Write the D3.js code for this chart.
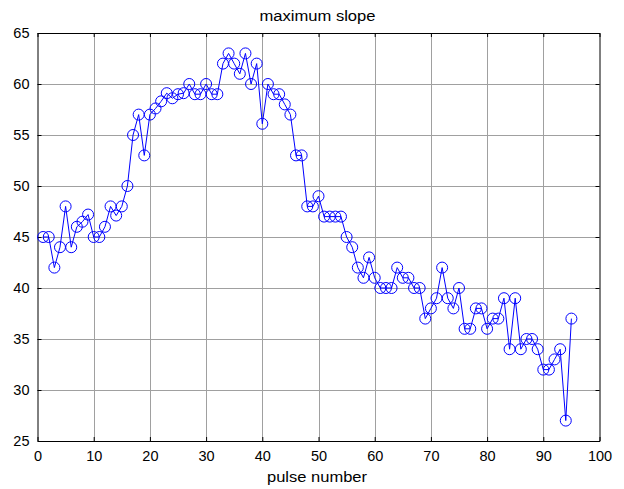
<!DOCTYPE html>
<html>
<head>
<meta charset="utf-8">
<script src="https://cdn.jsdelivr.net/npm/d3@7"></script>
<style>
  body { margin: 0; background: #fff; }
  svg { display: block; font-family: "Liberation Sans", Arial, sans-serif; }
</style>
</head>
<body>
<svg id="chart"></svg>
<script>
// pulse number 1..95
const pulses = d3.range(1, 96)
const slopes = [
  45, 45, 42, 44, 48, 44, 46, 46.5, 47.2, 45,
  45, 46, 48, 47.1, 48, 50, 55, 57, 53, 57,
  57.6, 58.3, 59.1, 58.6, 59, 59.1, 60, 59, 59, 60,
  59, 59, 62, 63, 62, 61, 63, 60, 62, 56.1,
  60, 59, 59, 58, 57, 53, 53, 48, 48, 49,
  47, 47, 47, 47, 45, 44, 42, 41, 43, 41,
  40, 40, 40, 42, 41, 41, 40, 40, 37, 38,
  39, 42, 39, 38, 40, 36, 36, 38, 38, 36,
  37, 37, 39, 34, 39, 34, 35, 35, 34, 32,
  32, 33, 34, 27, 37
]
const xTicks = d3.range(0, 101, 10)
const yTicks = d3.range(25, 66, 5)

const W = 624, H = 489
const m = { left: 37.5, right: 24.5, top: 33, bottom: 48 }

const svg = d3.select('#chart').attr('width', W).attr('height', H)

const x = d3.scaleLinear().domain([0, 100]).range([m.left, W - m.right])
const y = d3.scaleLinear().domain([25, 65]).range([H - m.bottom, m.top])

// grid
svg.append('g')
  .selectAll('line')
  .data(xTicks.slice(1, -1))
  .join('line')
    .attr('x1', d => Math.round(x(d)) + 0.5).attr('x2', d => Math.round(x(d)) + 0.5)
    .attr('y1', y(25)).attr('y2', y(65))
    .attr('stroke', '#a0a0a0')
svg.append('g')
  .selectAll('line')
  .data(yTicks.slice(1, -1))
  .join('line')
    .attr('y1', d => Math.round(y(d)) + 0.5).attr('y2', d => Math.round(y(d)) + 0.5)
    .attr('x1', x(0)).attr('x2', x(100))
    .attr('stroke', '#a0a0a0')

// axes, ticks inward on all sides
svg.append('g')
  .attr('transform', `translate(0,${y(25)})`)
  .call(d3.axisBottom(x).tickValues(xTicks).tickSizeInner(-4).tickSizeOuter(0).tickPadding(10))
svg.append('g')
  .attr('transform', `translate(0,${y(65)})`)
  .call(d3.axisTop(x).tickValues(xTicks).tickSizeInner(-4).tickSizeOuter(0).tickFormat(''))
svg.append('g')
  .attr('transform', `translate(${x(0)},0)`)
  .call(d3.axisLeft(y).tickValues(yTicks).tickSizeInner(-4).tickSizeOuter(0).tickPadding(8))
svg.append('g')
  .attr('transform', `translate(${x(100)},0)`)
  .call(d3.axisRight(y).tickValues(yTicks).tickSizeInner(-4).tickSizeOuter(0).tickFormat(''))

svg.selectAll('.domain').attr('stroke', '#000')
svg.selectAll('.tick line').attr('stroke', '#000')
svg.selectAll('.tick text').attr('fill', '#000').style('font-size', '14.5px')

// data
const pts = pulses.map((p, i) => [p, slopes[i]])
svg.append('path')
  .datum(pts)
  .attr('fill', 'none')
  .attr('stroke', '#0000ff')
  .attr('stroke-width', 1)
  .attr('d', d3.line().x(d => x(d[0])).y(d => y(d[1])))

svg.append('g')
  .selectAll('circle')
  .data(pts)
  .join('circle')
    .attr('cx', d => x(d[0]))
    .attr('cy', d => y(d[1]))
    .attr('r', 5.5)
    .attr('fill', 'none')
    .attr('stroke', '#0000ff')
    .attr('stroke-width', 1)

// labels (the original glyphs are drawn a bit wide)
svg.append('text')
  .attr('x', 317.5).attr('y', 21)
  .attr('text-anchor', 'middle')
  .attr('textLength', 116).attr('lengthAdjust', 'spacingAndGlyphs')
  .style('font-size', '14px')
  .text('maximum slope')
svg.append('text')
  .attr('x', 317).attr('y', 482)
  .attr('text-anchor', 'middle')
  .attr('textLength', 100).attr('lengthAdjust', 'spacingAndGlyphs')
  .style('font-size', '14px')
  .text('pulse number')
</script>
</body>
</html>
